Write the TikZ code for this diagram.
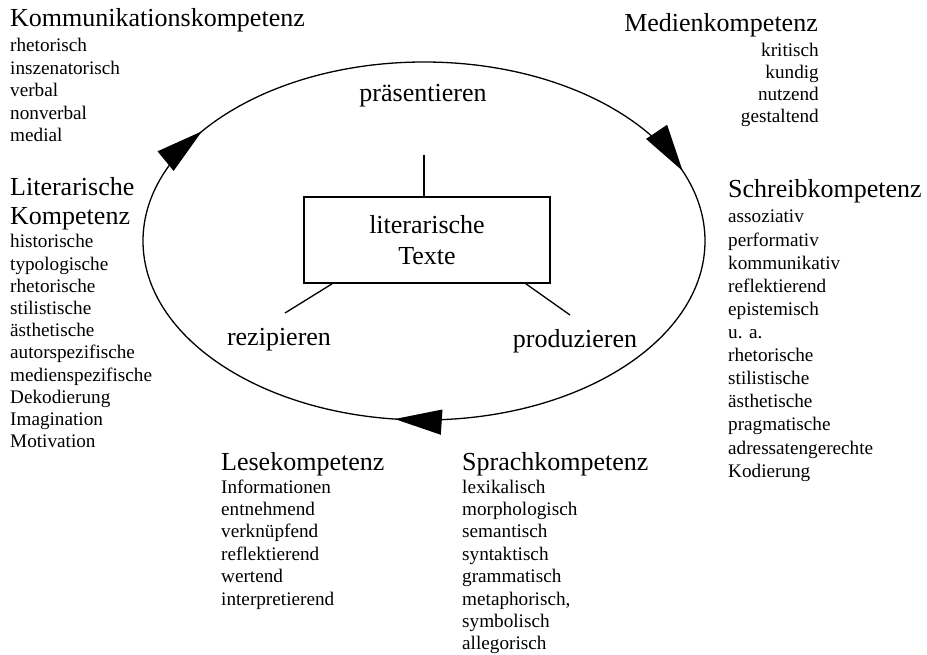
\documentclass[tikz,border=0pt]{standalone}
\usepackage{fontspec}
\setmainfont{Liberation Serif}
\usetikzlibrary{positioning,arrows.meta,decorations.markings}

\tikzset{
  head/.style={font=\fontsize{26}{29}\selectfont, anchor=base west, inner sep=0pt, align=left},
  item/.style={font=\fontsize{19.2}{22}\selectfont, anchor=base west, inner sep=0pt},
  verb/.style={font=\fontsize{26}{31}\selectfont, anchor=base, inner sep=0pt},
  ring/.style={line width=1.3pt, postaction={decorate}, decoration={markings,
    mark=at position 0.270 with {\arrow{Triangle[length=47pt,width=25pt]}},
    mark=at position 0.588 with {\arrow{Triangle[length=47pt,width=25pt]}},
    mark=at position 0.949 with {\arrow{Triangle[length=47pt,width=25pt]}}}}
}

\begin{document}
\begin{tikzpicture}[x=1pt,y=-1pt]
            \useasboundingbox (0,0) rectangle (927,655);

            % Kreislauf
            \draw[ring] (424,241) ellipse [x radius=281, y radius=179];

            % Mitte
            \node[draw, line width=1.3pt, rectangle, minimum width=246pt, minimum height=86pt,
                  align=center, font=\fontsize{26}{31}\selectfont] (texte) at (427,240) {literarische\\Texte};
            \node[verb] (praes) at (423,102) {präsentieren};
            \node[verb] (rezip) at (279,345) {rezipieren};
            \node[verb] (produ) at (575,347) {produzieren};
            \coordinate (ptop) at (424,155);
            \coordinate (pleft) at (285,313);
            \coordinate (pright) at (570,315);
            \draw[line width=1.3pt] (ptop) -- (ptop |- texte.north);
            \draw[line width=1.3pt] (pleft) -- ([xshift=29pt]texte.south west);
            \draw[line width=1.3pt] (pright) -- ([xshift=-25pt]texte.south east);

            % Kommunikationskompetenz
            \node[head] (kom) at (10,27) {Kommunikationskompetenz};
            \foreach \w [count=\i from 0] in {rhetorisch,inszenatorisch,verbal,nonverbal,medial}
              \node[item] (kom\i) at (10,52+22.5*\i) {\w};

            % Medienkompetenz
            \node[head, anchor=base east] (med) at (818,32) {Medienkompetenz};
            \foreach \w [count=\i from 0] in {kritisch,kundig,nutzend,gestaltend}
              \node[item, anchor=base east] (med\i) at (819,57+22*\i) {\w};

            % Literarische Kompetenz
            \node[head] (lit) at (10,225) {Literarische\\Kompetenz};
            \foreach \w [count=\i from 0] in {historische,typologische,rhetorische,stilistische,ästhetische,
                autorspezifische,medienspezifische,Dekodierung,Imagination,Motivation}
              \node[item] (lit\i) at (10,248+22.2*\i) {\w};

            % Schreibkompetenz
            \node[head] (schr) at (728,198) {Schreibkompetenz};
            \foreach \w [count=\i from 0] in {assoziativ,performativ,kommunikativ,reflektierend,epistemisch,u. a.,
                rhetorische,stilistische,ästhetische,pragmatische,adressatengerechte,Kodierung}
              \node[item] (schr\i) at (728,223+23.1*\i) {\w};

            % Lesekompetenz
            \node[head] (lese) at (221,470) {Lesekompetenz};
            \foreach \w [count=\i from 0] in {Informationen,entnehmend,verknüpfend,reflektierend,wertend,interpretierend}
              \node[item] (lese\i) at (221,493+22.4*\i) {\w};

            % Sprachkompetenz
            \node[head] (spr) at (462,470) {Sprachkompetenz};
            \foreach \w [count=\i from 0] in {lexikalisch,morphologisch,semantisch,syntaktisch,grammatisch,
                {metaphorisch,},symbolisch,allegorisch}
              \node[item] (spr\i) at (462,493+22.4*\i) {\w};

\end{tikzpicture}
\end{document}
